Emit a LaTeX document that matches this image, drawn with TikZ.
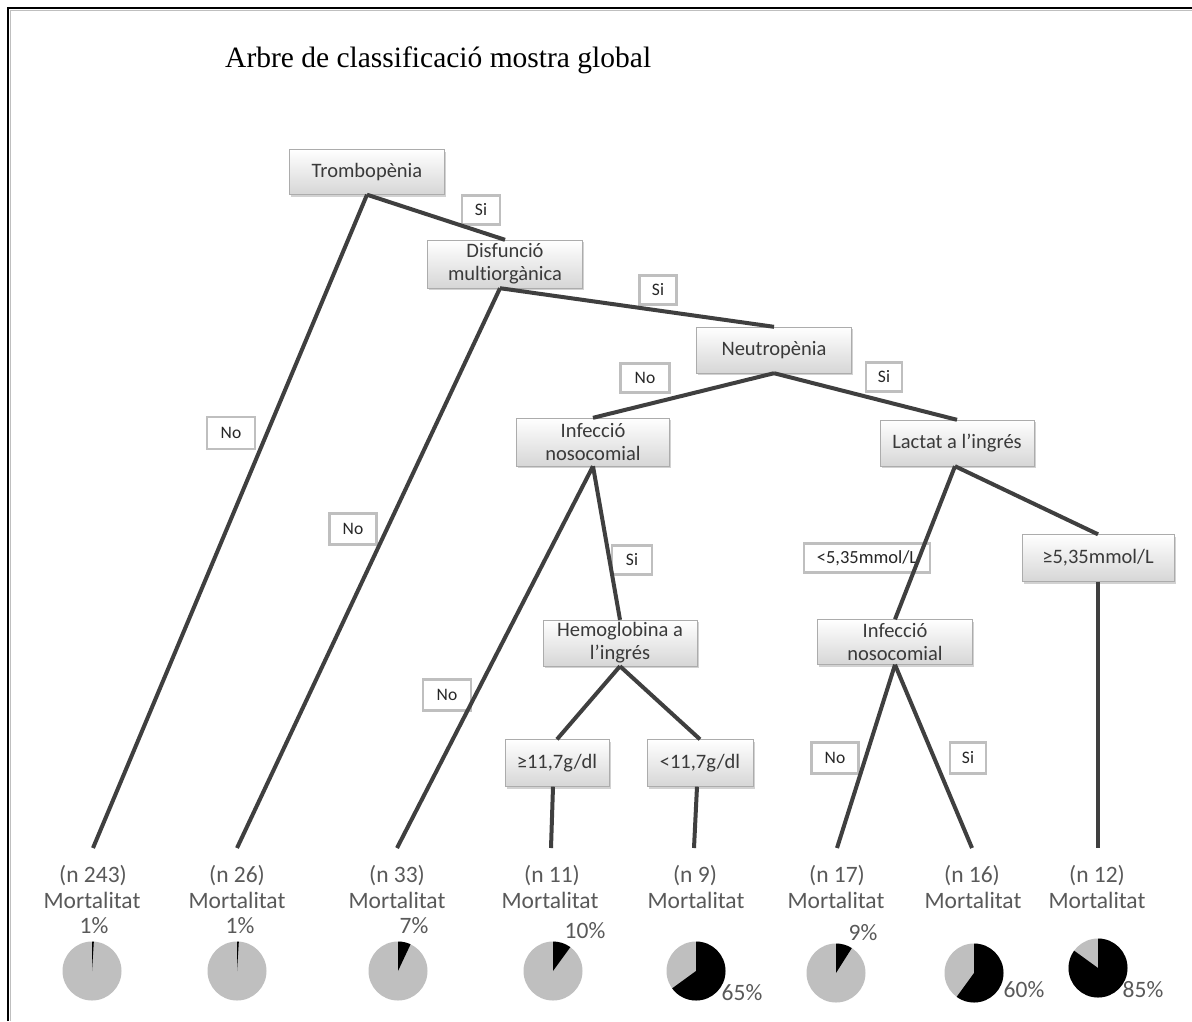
\documentclass[tikz,border=0pt]{standalone}
\usepackage{fontspec}
\setmainfont{Carlito}[Ligatures=NoCommon]
\newfontfamily\titlefont{Liberation Serif}
\usetikzlibrary{shadows}
\definecolor{edgec}{HTML}{3F3F3F}
\definecolor{boxtxt}{HTML}{3A3A3A}
\definecolor{leaftxt}{HTML}{595959}
\definecolor{piegray}{HTML}{BFBFBF}
\definecolor{lblline}{HTML}{BFBFBF}
\newcommand{\mypie}[3]{%
  \begin{scope}[shift={(#1,#2)}]
    \fill[piegray] (0pt,0pt) circle (29.5pt);
    \fill[black] (0pt,0pt) -- (90:29.5pt) arc[start angle=90, end angle={90-3.6*#3}, radius=29.5pt] -- cycle;
  \end{scope}}
\begin{document}
\begin{tikzpicture}[x=1pt,y=-1pt,
  qbox/.style={draw=gray!65, top color=white, bottom color=gray!32, text=boxtxt,
    font=\fontsize{20.5}{23}\selectfont, align=center, inner sep=0pt,
    drop shadow={shadow xshift=1.5pt, shadow yshift=-2pt, fill=gray!70, opacity=.5}},
  lbl/.style={draw=lblline, line width=2.5pt, fill=white, text=black!85,
    font=\fontsize{17.5}{20}\selectfont, inner sep=0pt, minimum height=29pt},
  link/.style={draw=edgec, line width=4pt},
  leaf/.style={text=leaftxt, font=\fontsize{23.5}{26}\selectfont, anchor=base, inner sep=0pt},
  pct/.style={text=leaftxt, font=\fontsize{23.5}{26}\selectfont, anchor=base, inner sep=0pt}]
\useasboundingbox (0,0) rectangle (1192,1021);
\fill[white] (0,0) rectangle (1192,1021);
% frame
\draw[gray!50, line width=1pt] (10,1021) -- (10,10) -- (1192,10);
\draw[black, line width=2pt] (8,1021) -- (8,8) -- (1192,8);
% title
\node[anchor=base west, inner sep=0pt, font=\titlefont\fontsize{29.5}{32}\selectfont] (title) at (225,67) {Arbre de classificació mostra global};

% label boxes (drawn below lines)
\node[lbl, minimum width=38pt] (si1) at (481,210) {Si};
\node[lbl, minimum width=37pt] (si2) at (658,290) {Si};
\node[lbl, minimum width=49pt] (no3) at (645,378) {No};
\node[lbl, minimum width=36pt] (si3) at (884,377) {Si};
\node[lbl, minimum width=48pt, minimum height=32pt] (noT) at (231,433) {No};
\node[lbl, minimum width=47pt, minimum height=31pt] (noD) at (353,529) {No};
\node[lbl, minimum width=40pt] (si4) at (632,560) {Si};
\node[lbl, minimum width=126pt, font=\fontsize{18.5}{21}\selectfont] (lt535) at (867,558) {<5,35mmol/L};
\node[lbl, minimum width=48pt, minimum height=31pt] (noI) at (447,695) {No};
\node[lbl, minimum width=47pt, minimum height=31pt] (no5) at (835,758) {No};
\node[lbl, minimum width=36pt, minimum height=31pt] (si5) at (968,758) {Si};

% decision boxes
\node[qbox, minimum width=155pt, minimum height=45pt] (tromb) at (367,172) {Trombopènia};
\node[qbox, minimum width=155pt, minimum height=48pt] (disf) at (505,264) {Disfunció\\multiorgànica};
\node[qbox, minimum width=155pt, minimum height=46pt] (neut) at (774,350) {Neutropènia};
\node[qbox, minimum width=153pt, minimum height=48pt] (inf1) at (593,442) {Infecció\\nosocomial};
\node[qbox, minimum width=154pt, minimum height=46pt] (lact) at (957,443) {Lactat a l’ingrés};
\node[qbox, minimum width=154pt, minimum height=46pt] (hemo) at (620,643) {Hemoglobina a\\l’ingrés};
\node[qbox, minimum width=104pt, minimum height=47pt] (ge11) at (557,763) {≥11,7g/dl};
\node[qbox, minimum width=106pt, minimum height=47pt] (lt11) at (700,763) {<11,7g/dl};
\node[qbox, minimum width=155pt, minimum height=45pt] (inf2) at (895,642) {Infecció\\nosocomial};
\node[qbox, minimum width=152pt, minimum height=47pt] (ge535) at (1098,558) {≥5,35mmol/L};

% leaves
\node[leaf] (n1) at (93,882) {(n 243)};
\node[leaf] (m1) at (92,908) {Mortalitat};
\node[leaf] (n2) at (237,882) {(n 26)};
\node[leaf] (m2) at (237,908) {Mortalitat};
\node[leaf] (n3) at (397,882) {(n 33)};
\node[leaf] (m3) at (397,908) {Mortalitat};
\node[leaf] (n4) at (552,882) {(n 11)};
\node[leaf] (m4) at (550,908) {Mortalitat};
\node[leaf] (n5) at (695,882) {(n 9)};
\node[leaf] (m5) at (696,908) {Mortalitat};
\node[leaf] (n6) at (837,882) {(n 17)};
\node[leaf] (m6) at (836,908) {Mortalitat};
\node[leaf] (n7) at (972,882) {(n 16)};
\node[leaf] (m7) at (973,908) {Mortalitat};
\node[leaf] (n8) at (1097,882) {(n 12)};
\node[leaf] (m8) at (1097,908) {Mortalitat};

\coordinate (e1) at (93,848);
\coordinate (e2) at (237,848);
\coordinate (e3) at (397,848);
\coordinate (e4) at (551,848);
\coordinate (e5) at (694,848);
\coordinate (e6) at (837,848);
\coordinate (e7) at (972,848);
\coordinate (e8) at (1098,848);

% pies
\mypie{92}{971}{1}
\mypie{237}{971}{1}
\mypie{398}{971}{7}
\mypie{553}{971}{10}
\mypie{696}{971}{65}
\mypie{836}{973}{9}
\mypie{974}{973}{60}
\mypie{1098}{968}{85}

% percentages
\node[pct] (p1) at (94,933) {1\%};
\node[pct] (p2) at (240,933) {1\%};
\node[pct] (p3) at (414,933) {7\%};
\node[pct] (p4) at (585,938) {10\%};
\node[pct] (p5) at (742,1000) {65\%};
\node[pct] (p6) at (863,940) {9\%};
\node[pct] (p7) at (1024,997) {60\%};
\node[pct] (p8) at (1143,997) {85\%};

% connectors
\draw[link] (tromb.south) -- (e1);
\draw[link] (tromb.south) -- (disf.north);
\draw[link] ([xshift=-5pt]disf.south) -- (e2);
\draw[link] ([xshift=-5pt]disf.south) -- (neut.north);
\draw[link] (neut.south) -- (inf1.north);
\draw[link] (neut.south) -- (lact.north);
\draw[link] (inf1.south) -- (e3);
\draw[link] (inf1.south) -- (hemo.north);
\draw[link] (hemo.south) -- (ge11.north);
\draw[link] (hemo.south) -- (lt11.north);
\draw[link] ([xshift=-4pt]ge11.south) -- (e4);
\draw[link] ([xshift=-3pt]lt11.south) -- (e5);
\draw[link] ([xshift=-2pt]lact.south) -- (inf2.north);
\draw[link] ([xshift=-2pt]lact.south) -- (ge535.north);
\draw[link] (ge535.south) -- (e8);
\draw[link] (inf2.south) -- (e6);
\draw[link] (inf2.south) -- (e7);
\end{tikzpicture}
\end{document}
